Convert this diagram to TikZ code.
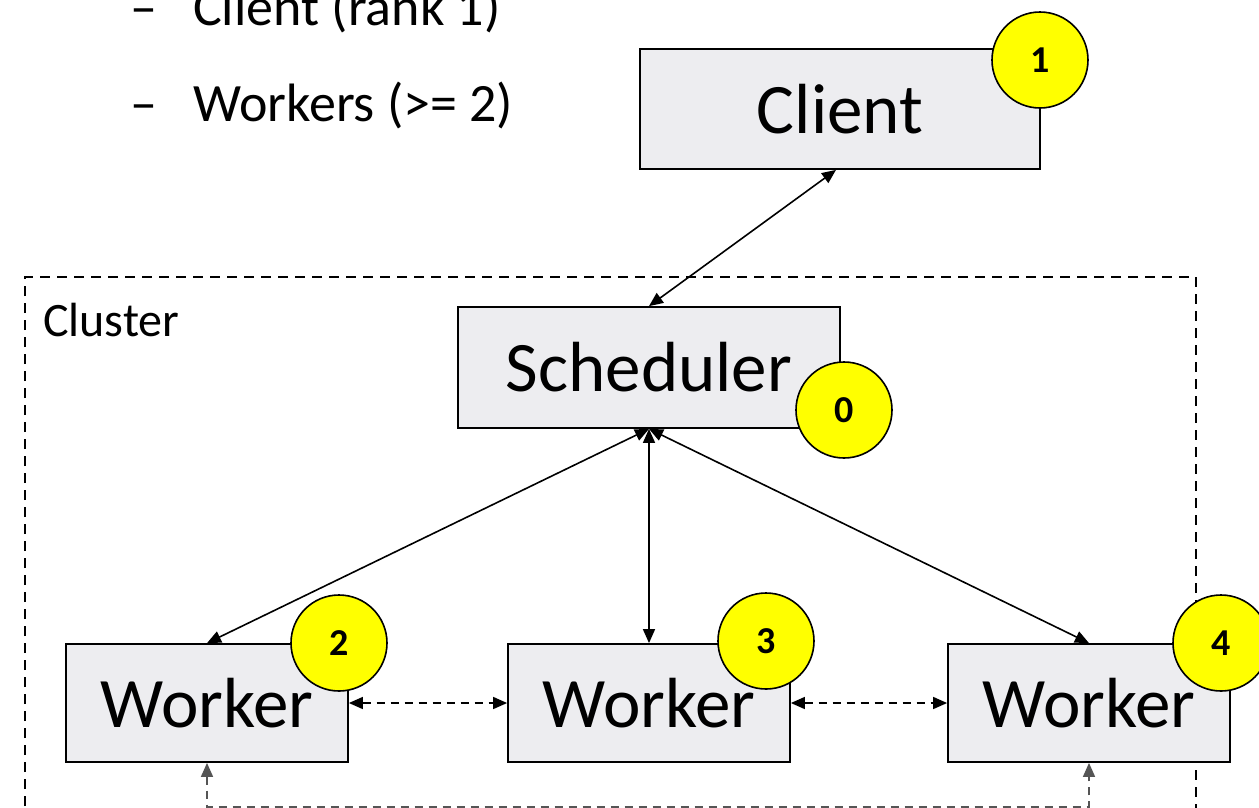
\documentclass[tikz,border=0pt]{standalone}
\usepackage{fontspec}
\setmainfont{Carlito}
\usetikzlibrary{arrows.meta,calc}
\definecolor{boxfill}{HTML}{EDEDF0}
\definecolor{badge}{HTML}{FFFF00}
\definecolor{linkgray}{HTML}{555555}
\tikzset{
  procbox/.style={draw=black, line width=1.8pt, fill=boxfill, inner sep=0pt},
  rankbadge/.style={circle, draw=black, line width=1.6pt, fill=badge, minimum size=96pt,
    inner sep=0pt, font=\fontsize{38}{38}\selectfont\bfseries},
  link/.style={line width=1.6pt, {Triangle[length=14pt,width=12pt]}-{Triangle[length=14pt,width=12pt]}},
  peerlink/.style={link, dash pattern=on 8pt off 6pt},
  clusterframe/.style={draw=black, line width=1.6pt, dash pattern=on 10pt off 7pt},
  bigtext/.style={font=\fontsize{71}{71}\selectfont},
  listtext/.style={font=\fontsize{54}{54}\selectfont, anchor=base west, inner sep=0pt},
}
\begin{document}
\begin{tikzpicture}[x=1pt,y=-1pt]
  \useasboundingbox (0,0) rectangle (1259,807);
  \clip (0,0) rectangle (1259,807);

  % role list
  \node[listtext] (dash1) at (130,25) {–};
  \node[listtext] (item1) at (193,25) {Client (rank 1)};
  \node[listtext] (dash2) at (130,121) {–};
  \node[listtext] (item2) at (193,121) {Workers (>= 2)};

  % cluster frame
  \draw[clusterframe] (25,840) -- (25,277) -- (1196,277) -- (1196,840);
  \node[font=\fontsize{48}{48}\selectfont, anchor=west, inner sep=0pt] (clabel) at (43,320) {Cluster};

  % processes
  \node[procbox, bigtext, minimum width=400pt, minimum height=120pt] (client) at (840,109) {Client};
  \node[procbox, bigtext, minimum width=382pt, minimum height=121pt] (sched) at (649,367.5) {Scheduler};
  \node[procbox, bigtext, minimum width=282pt, minimum height=118pt] (w2) at (207,703) {Worker};
  \node[procbox, bigtext, minimum width=282pt, minimum height=118pt] (w3) at (649,703) {Worker};
  \node[procbox, bigtext, minimum width=282pt, minimum height=118pt] (w4) at (1089,703) {Worker};

  % rank badges
  \node[rankbadge] (r1) at (1040,60) {1};
  \node[rankbadge] (r0) at (844,410) {0};
  \node[rankbadge] (r2) at (339,643) {2};
  \node[rankbadge] (r3) at (766,641) {3};
  \node[rankbadge] (r4) at (1221,643) {4};

  % links
  \draw[link] ([xshift=-4pt]client.south) -- (sched.north);
  \draw[link] (sched.south) -- (w2.north);
  \draw[link] (sched.south) -- (w3.north);
  \draw[link] (sched.south) -- (w4.north);
  \draw[peerlink] (w2.east) -- (w3.west);
  \draw[peerlink] (w3.east) -- (w4.west);
  \coordinate (under) at ($(w2.south)+(0,44)$);
  \draw[peerlink, draw=linkgray] (w2.south) -- (under) -| (w4.south);
\end{tikzpicture}
\end{document}
